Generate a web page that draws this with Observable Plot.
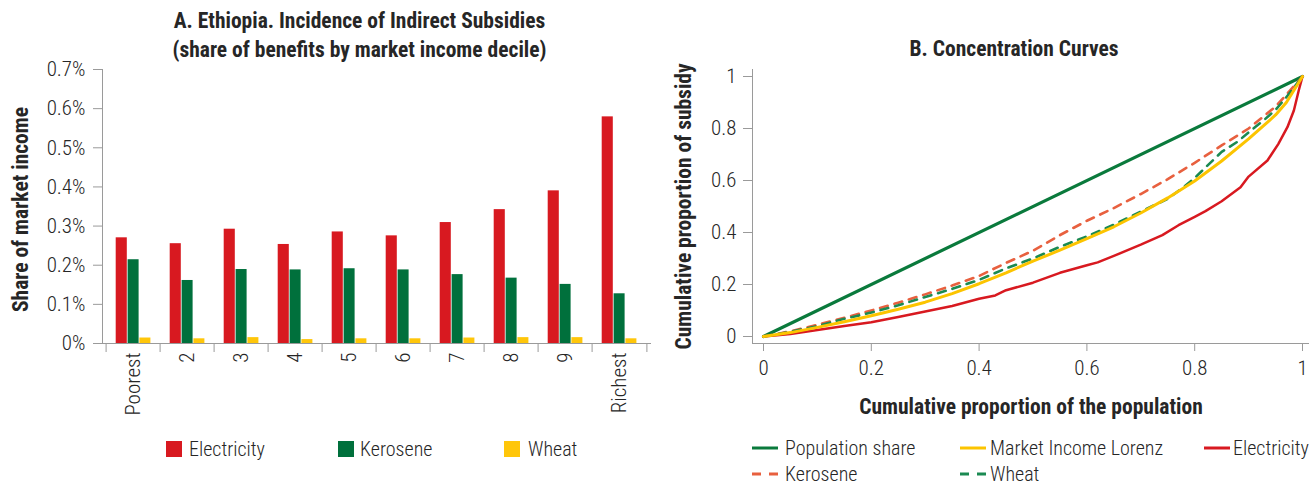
<!DOCTYPE html>
<html><head><meta charset="utf-8">
<script src="https://cdn.jsdelivr.net/npm/d3@7"></script>
<script src="https://cdn.jsdelivr.net/npm/@observablehq/plot@0.6"></script>
<style>
body{margin:0;background:#fff;}
#root{position:relative;width:1309px;height:486px;overflow:hidden;font-family:"Roboto Condensed","Roboto",sans-serif;font-stretch:75%;color:#262626;}
.abs{position:absolute;}
.title{font-weight:bold;font-size:21.5px;text-align:center;line-height:29px;white-space:nowrap;}
.leg{position:absolute;font-size:20px;font-weight:300;white-space:nowrap;line-height:20px;}
svg text{font-stretch:75%;}
</style></head><body><div id="root">
<div class="abs title" style="left:0;top:6px;width:719px">A. Ethiopia. Incidence of Indirect Subsidies<br>(share of benefits by market income decile)</div>
<div class="abs title" style="left:810px;top:34px;width:408px">B. Concentration Curves</div>
<div id="chartA" class="abs" style="left:0;top:50px"></div>
<div id="chartB" class="abs" style="left:660px;top:50px"></div>
<div id="legA"></div><div id="legB"></div>
</div>
<script>
// ---------- Panel A data ----------
const deciles = ["Poorest","2","3","4","5","6","7","8","9","Richest"];
const electricity = [0.270,0.255,0.292,0.253,0.285,0.275,0.309,0.342,0.390,0.579];
const kerosene = [0.214,0.161,0.189,0.188,0.191,0.188,0.176,0.167,0.151,0.127];
const wheat = [0.014,0.012,0.015,0.010,0.012,0.012,0.014,0.015,0.015,0.012];
const fuels = ["Electricity","Kerosene","Wheat"];
const yTicksA = [0,0.1,0.2,0.3,0.4,0.5,0.6,0.7];
const yLabelA = "Share of market income";

// ---------- Panel B data ----------
const popX = [0,1];
const popY = [0,1];
const lorenzX = [0,0.05,0.1,0.15,0.2,0.25,0.3,0.35,0.4,0.45,0.5,0.55,0.6,0.65,0.7,0.75,0.8,0.85,0.9,0.95,0.97,1];
const lorenzY = [0,0.015,0.035,0.057,0.08,0.105,0.132,0.165,0.203,0.245,0.29,0.332,0.376,0.422,0.475,0.533,0.598,0.675,0.76,0.852,0.9,1];
const elecX = [0,0.05,0.1,0.15,0.2,0.25,0.3,0.35,0.4,0.43,0.45,0.5,0.55,0.6,0.62,0.65,0.7,0.74,0.77,0.8,0.82,0.85,0.885,0.9,0.935,0.955,0.972,0.984,0.993,1];
const elecY = [0,0.01,0.025,0.04,0.055,0.075,0.096,0.117,0.145,0.158,0.178,0.207,0.245,0.274,0.285,0.31,0.353,0.39,0.428,0.46,0.482,0.52,0.574,0.615,0.677,0.74,0.805,0.869,0.946,1];
const keroX = [0,0.05,0.1,0.15,0.2,0.25,0.3,0.35,0.4,0.45,0.5,0.55,0.6,0.65,0.7,0.75,0.8,0.85,0.9,0.95,1];
const keroY = [0,0.02,0.045,0.072,0.1,0.13,0.162,0.196,0.233,0.283,0.33,0.39,0.445,0.494,0.548,0.605,0.668,0.735,0.8,0.884,1];
const wheatX = [0,0.05,0.1,0.15,0.2,0.25,0.3,0.35,0.4,0.45,0.5,0.55,0.6,0.65,0.7,0.75,0.78,0.8,0.85,0.88,0.9,0.93,0.95,0.97,1];
const wheatY = [0,0.018,0.04,0.068,0.092,0.12,0.152,0.183,0.218,0.262,0.3,0.345,0.385,0.43,0.48,0.53,0.575,0.61,0.71,0.75,0.785,0.835,0.872,0.92,1];
const seriesB = ["Population share","Market Income Lorenz","Electricity","Kerosene","Wheat"];
const ticksB = [0,0.2,0.4,0.6,0.8,1];
const xLabelB = "Cumulative proportion of the population";
const yLabelB = "Cumulative proportion of subsidy";

// ---------- styles ----------
const FONT = '"Roboto Condensed","Roboto",sans-serif';
const GRAY = "#9a9a9a";
const TXT = "#262626";
const barColors = {Electricity:"#d81920", Kerosene:"#00703c", Wheat:"#ffc60a"};
const lineStyles = {
  "Population share": {stroke:"#0a7a3c", width:3.2, dash:null},
  "Market Income Lorenz": {stroke:"#fcc400", width:3, dash:null},
  "Electricity": {stroke:"#d81920", width:2.5, dash:null},
  "Kerosene": {stroke:"#e8603f", width:2.6, dash:"8,7"},
  "Wheat": {stroke:"#1b8a52", width:2.6, dash:"8,7"}
};
const plotStyle = {fontFamily: FONT, fontSize: "21px", fontWeight: 300, color: TXT, background: "transparent"};

// ---------- Panel A ----------
const rowsA = deciles.flatMap((d,i)=>[
  {decile:d, fuel:"Electricity", value:electricity[i]},
  {decile:d, fuel:"Kerosene", value:kerosene[i]},
  {decile:d, fuel:"Wheat", value:wheat[i]}
]);
const WA = 660, mLA = 102, mRA = 10;
const bw = (WA - mLA - mRA) / deciles.length;
const insets = {Electricity:[9.7, bw-21.6], Kerosene:[21.6, bw-33.4], Wheat:[33.4, bw-45.2]};

const chartA = Plot.plot({
  width: WA, height: 380, marginLeft: mLA, marginRight: mRA, marginTop: 19, marginBottom: 87,
  style: plotStyle,
  x: {type: "band", domain: deciles, padding: 0},
  y: {domain: [0, 0.7]},
  marks: [
    ...fuels.map(f => Plot.barY(rowsA.filter(r => r.fuel === f), {
      x: "decile", y: "value", fill: barColors[f], insetLeft: insets[f][0], insetRight: insets[f][1]
    })),
    Plot.frame({anchor: "left", stroke: GRAY}),
    Plot.frame({anchor: "bottom", stroke: GRAY}),
    Plot.axisY({ticks: yTicksA, tickFormat: d => d === 0 ? "0%" : d.toFixed(1) + "%", tickSize: 9, tickPadding: 8, stroke: GRAY, fill: TXT, label: null}),
    Plot.axisX({tickSize: 0, tickRotate: -90, tickPadding: 9, fill: TXT, label: null}),
    Plot.axisX({tickSize: 9, tickFormat: () => "", dx: -bw/2, stroke: GRAY, label: null}),
    Plot.axisX({ticks: [deciles[deciles.length-1]], tickSize: 9, tickFormat: () => "", dx: bw/2, stroke: GRAY, label: null}),
    Plot.text([yLabelA], {text: d => d, frameAnchor: "left", textAnchor: "middle", rotate: -90, dx: -81, dy: 3, fontWeight: "bold", fontSize: 21.5, fill: TXT})
  ]
});
document.getElementById("chartA").appendChild(chartA);

// ---------- Panel B ----------
const mk = (name, xs, ys) => xs.map((x,i) => ({series: name, x, y: ys[i]}));
const rowsB = {
  "Population share": mk("Population share", popX, popY),
  "Market Income Lorenz": mk("Market Income Lorenz", lorenzX, lorenzY),
  "Electricity": mk("Electricity", elecX, elecY),
  "Kerosene": mk("Kerosene", keroX, keroY),
  "Wheat": mk("Wheat", wheatX, wheatY)
};
const drawOrder = ["Population share","Electricity","Kerosene","Wheat","Market Income Lorenz"];

const chartB = Plot.plot({
  width: 649, height: 380, marginLeft: 92, marginRight: 0, marginTop: 19, marginBottom: 87,
  style: plotStyle,
  x: {domain: [0, 1], insetLeft: 11, insetRight: 7},
  y: {domain: [0, 1], insetTop: 7, insetBottom: 7},
  marks: [
    Plot.frame({anchor: "left", stroke: GRAY}),
    Plot.frame({anchor: "bottom", stroke: GRAY}),
    Plot.axisY({ticks: ticksB, tickFormat: d => String(d), tickSize: 9, tickPadding: 7, stroke: GRAY, fill: TXT, label: null}),
    Plot.axisX({ticks: ticksB, tickFormat: d => String(d), tickSize: 8, tickPadding: 9, stroke: GRAY, fill: TXT, label: null}),
    ...drawOrder.map(s => Plot.line(rowsB[s], {
      x: "x", y: "y", stroke: lineStyles[s].stroke, strokeWidth: lineStyles[s].width,
      strokeDasharray: lineStyles[s].dash, curve: "linear"
    })),
    Plot.text([xLabelB], {text: d => d, frameAnchor: "bottom", lineAnchor: "middle", dy: 64, fontWeight: "bold", fontSize: 21.5, fill: TXT}),
    Plot.text([yLabelB], {text: d => d, frameAnchor: "left", textAnchor: "middle", rotate: -90, dx: -68, fontWeight: "bold", fontSize: 21.5, fill: TXT})
  ]
});
document.getElementById("chartB").appendChild(chartB);

// ---------- Legends ----------
const legAPos = [[166, 189], [338, 360], [504, 528]];
const legA = document.getElementById("legA");
fuels.forEach((f, i) => {
  const sw = document.createElement("div");
  sw.style.cssText = `position:absolute;left:${legAPos[i][0]}px;top:441px;width:16px;height:16px;background:${barColors[f]}`;
  legA.appendChild(sw);
  const t = document.createElement("div");
  t.className = "leg"; t.textContent = f;
  t.style.left = legAPos[i][1] + "px"; t.style.top = "439px";
  legA.appendChild(t);
});

const legBPos = [[752, 785, 448], [960, 990, 448], [1204, 1233, 448], [752, 785, 474], [960, 990, 474]];
const legB = document.getElementById("legB");
seriesB.forEach((s, i) => {
  const [lx, tx, cy] = legBPos[i];
  const st = lineStyles[s];
  const ns = "http://www.w3.org/2000/svg";
  const svg = document.createElementNS(ns, "svg");
  svg.setAttribute("width", 26); svg.setAttribute("height", 6);
  svg.style.cssText = `position:absolute;left:${lx}px;top:${cy-3}px`;
  const ln = document.createElementNS(ns, "line");
  ln.setAttribute("x1", 0); ln.setAttribute("x2", 26); ln.setAttribute("y1", 3); ln.setAttribute("y2", 3);
  ln.setAttribute("stroke", st.stroke); ln.setAttribute("stroke-width", 3);
  if (st.dash) ln.setAttribute("stroke-dasharray", "9,8");
  svg.appendChild(ln); legB.appendChild(svg);
  const t = document.createElement("div");
  t.className = "leg"; t.textContent = s;
  t.style.left = tx + "px"; t.style.top = (cy - 10) + "px";
  legB.appendChild(t);
});
</script>
</body></html>
